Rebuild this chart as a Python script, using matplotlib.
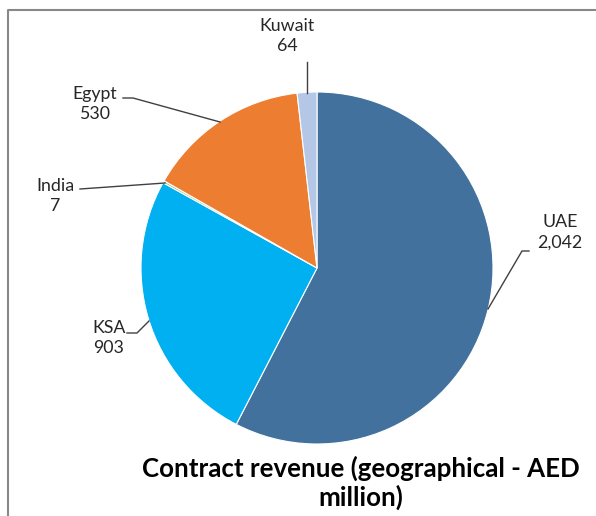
import matplotlib
matplotlib.use('Agg')
import matplotlib.pyplot as plt

countries = ['UAE', 'KSA', 'India', 'Egypt', 'Kuwait']
revenue = [2042, 903, 7, 530, 64]
colors = ['#41719C', '#00B0F0', '#A9C97E', '#ED7D31', '#B4C7E7']

# label text position (px) and leader line points (px), image coords
label_pos = {
    'UAE': (560, 232),
    'KSA': (109, 338),
    'India': (55, 196),
    'Egypt': (95, 104),
    'Kuwait': (287, 36),
}
leaders = {
    'UAE': [(529, 251), (522, 251), (488, 309)],
    'KSA': [(127, 333), (137, 333), (149, 321)],
    'India': [(80, 189), (165, 183)],
    'Egypt': [(123, 98), (133, 98), (220, 122)],
    'Kuwait': [(307, 62), (307, 93)],
}

W, H = 596, 516
plt.rcParams['font.family'] = ['Lato', 'DejaVu Sans']

fig = plt.figure(figsize=(W / 100, H / 100), dpi=100)
ax = fig.add_axes([0, 0, 1, 1])

ax.pie(revenue, colors=colors, startangle=90, counterclock=False,
       center=(317, H - 268), radius=176,
       wedgeprops=dict(edgecolor='white', linewidth=0.8))
ax.set_xlim(0, W)
ax.set_ylim(0, H)
ax.set_aspect('equal')
ax.axis('off')

for name, val in zip(countries, revenue):
    pts = leaders[name]
    ax.plot([p[0] for p in pts], [H - p[1] for p in pts], color='#404040', lw=1)
    x, y = label_pos[name]
    ax.text(x, H - y, '%s\n%s' % (name, format(val, ',')), ha='center', va='center',
            fontsize=12.8, color='#262626', linespacing=1.35)

ax.text(361, H - 483, 'Contract revenue (geographical - AED\nmillion)', ha='center',
        va='center', fontsize=18.6, fontweight='bold', color='black', linespacing=1.2)

# outer frame
ax.plot([8, 8, W + 5], [-5, H - 10, H - 10], color='#888888', lw=1.5, clip_on=False)

fig.savefig('out.png', dpi=100)
